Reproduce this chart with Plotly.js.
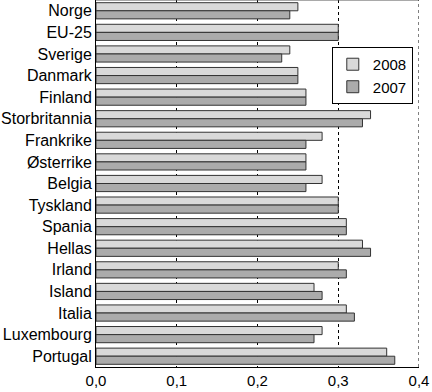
<!DOCTYPE html>
<html>
<head>
<meta charset="utf-8">
<script src="https://cdn.plot.ly/plotly-3.0.1.min.js"></script>
<style>html,body{margin:0;padding:0;background:#fff;}#chart{width:432px;height:392px;}</style>
</head>
<body>
<div id="chart"></div>
<script>
const categories = ["Norge","EU-25","Sverige","Danmark","Finland","Storbritannia","Frankrike","Østerrike","Belgia","Tyskland","Spania","Hellas","Irland","Island","Italia","Luxembourg","Portugal"];
const values2008 = [0.25,0.30,0.24,0.25,0.26,0.34,0.28,0.26,0.28,0.30,0.31,0.33,0.30,0.27,0.31,0.28,0.36];
const values2007 = [0.24,0.30,0.23,0.25,0.26,0.33,0.26,0.26,0.26,0.30,0.31,0.34,0.31,0.28,0.32,0.27,0.37];
const tickVals = [0, 0.1, 0.2, 0.3, 0.4];
const tickText = ["0,0","0,1","0,2","0,3","0,4"];

const font = {family: "'Liberation Sans', Arial, sans-serif", color: "#000"};
const traces = [
  {type: "bar", orientation: "h", name: "2008", y: categories, x: values2008,
   marker: {color: "#d9d9d9", line: {color: "#333", width: 1}}},
  {type: "bar", orientation: "h", name: "2007", y: categories, x: values2007,
   marker: {color: "#ababab", line: {color: "#333", width: 1}}}
];
const layout = {
  width: 432, height: 392,
  margin: {l: 96, r: 13, t: 0, b: 25, pad: 0},
  paper_bgcolor: "#fff", plot_bgcolor: "#fff",
  barmode: "group", bargap: 0.25, bargroupgap: 0,
  font: Object.assign({size: 15}, font),
  xaxis: {range: [0, 0.4], tickvals: tickVals, ticktext: tickText,
          showgrid: true, gridcolor: "#000", griddash: "dot", gridwidth: 1,
          showline: true, linecolor: "#000", linewidth: 1, zeroline: false,
          ticks: "", tickfont: Object.assign({size: 15}, font)},
  yaxis: {type: "category", autorange: "reversed", showline: true, linecolor: "#000", linewidth: 1,
          ticks: "", ticklen: 0, showgrid: false, tickfont: Object.assign({size: 16}, font)},
  legend: {x: 0.73, y: 0.872, xanchor: "left", yanchor: "top", bgcolor: "#fff",
           bordercolor: "#000", borderwidth: 1, font: Object.assign({size: 15}, font),
           traceorder: "normal", tracegroupgap: 0},
  shapes: [
    {type: "line", xref: "paper", yref: "paper", x0: 0, x1: 1, y0: 1, y1: 1,
     line: {color: "#555", width: 1}},
    {type: "line", xref: "x", yref: "paper", x0: tickVals[4], x1: tickVals[4], y0: 0, y1: 1,
     line: {color: "#000", width: 1, dash: "dot"}}
  ],
  showlegend: true
};
Plotly.newPlot("chart", traces, layout, {displayModeBar: false, staticPlot: true});
</script>
</body>
</html>
